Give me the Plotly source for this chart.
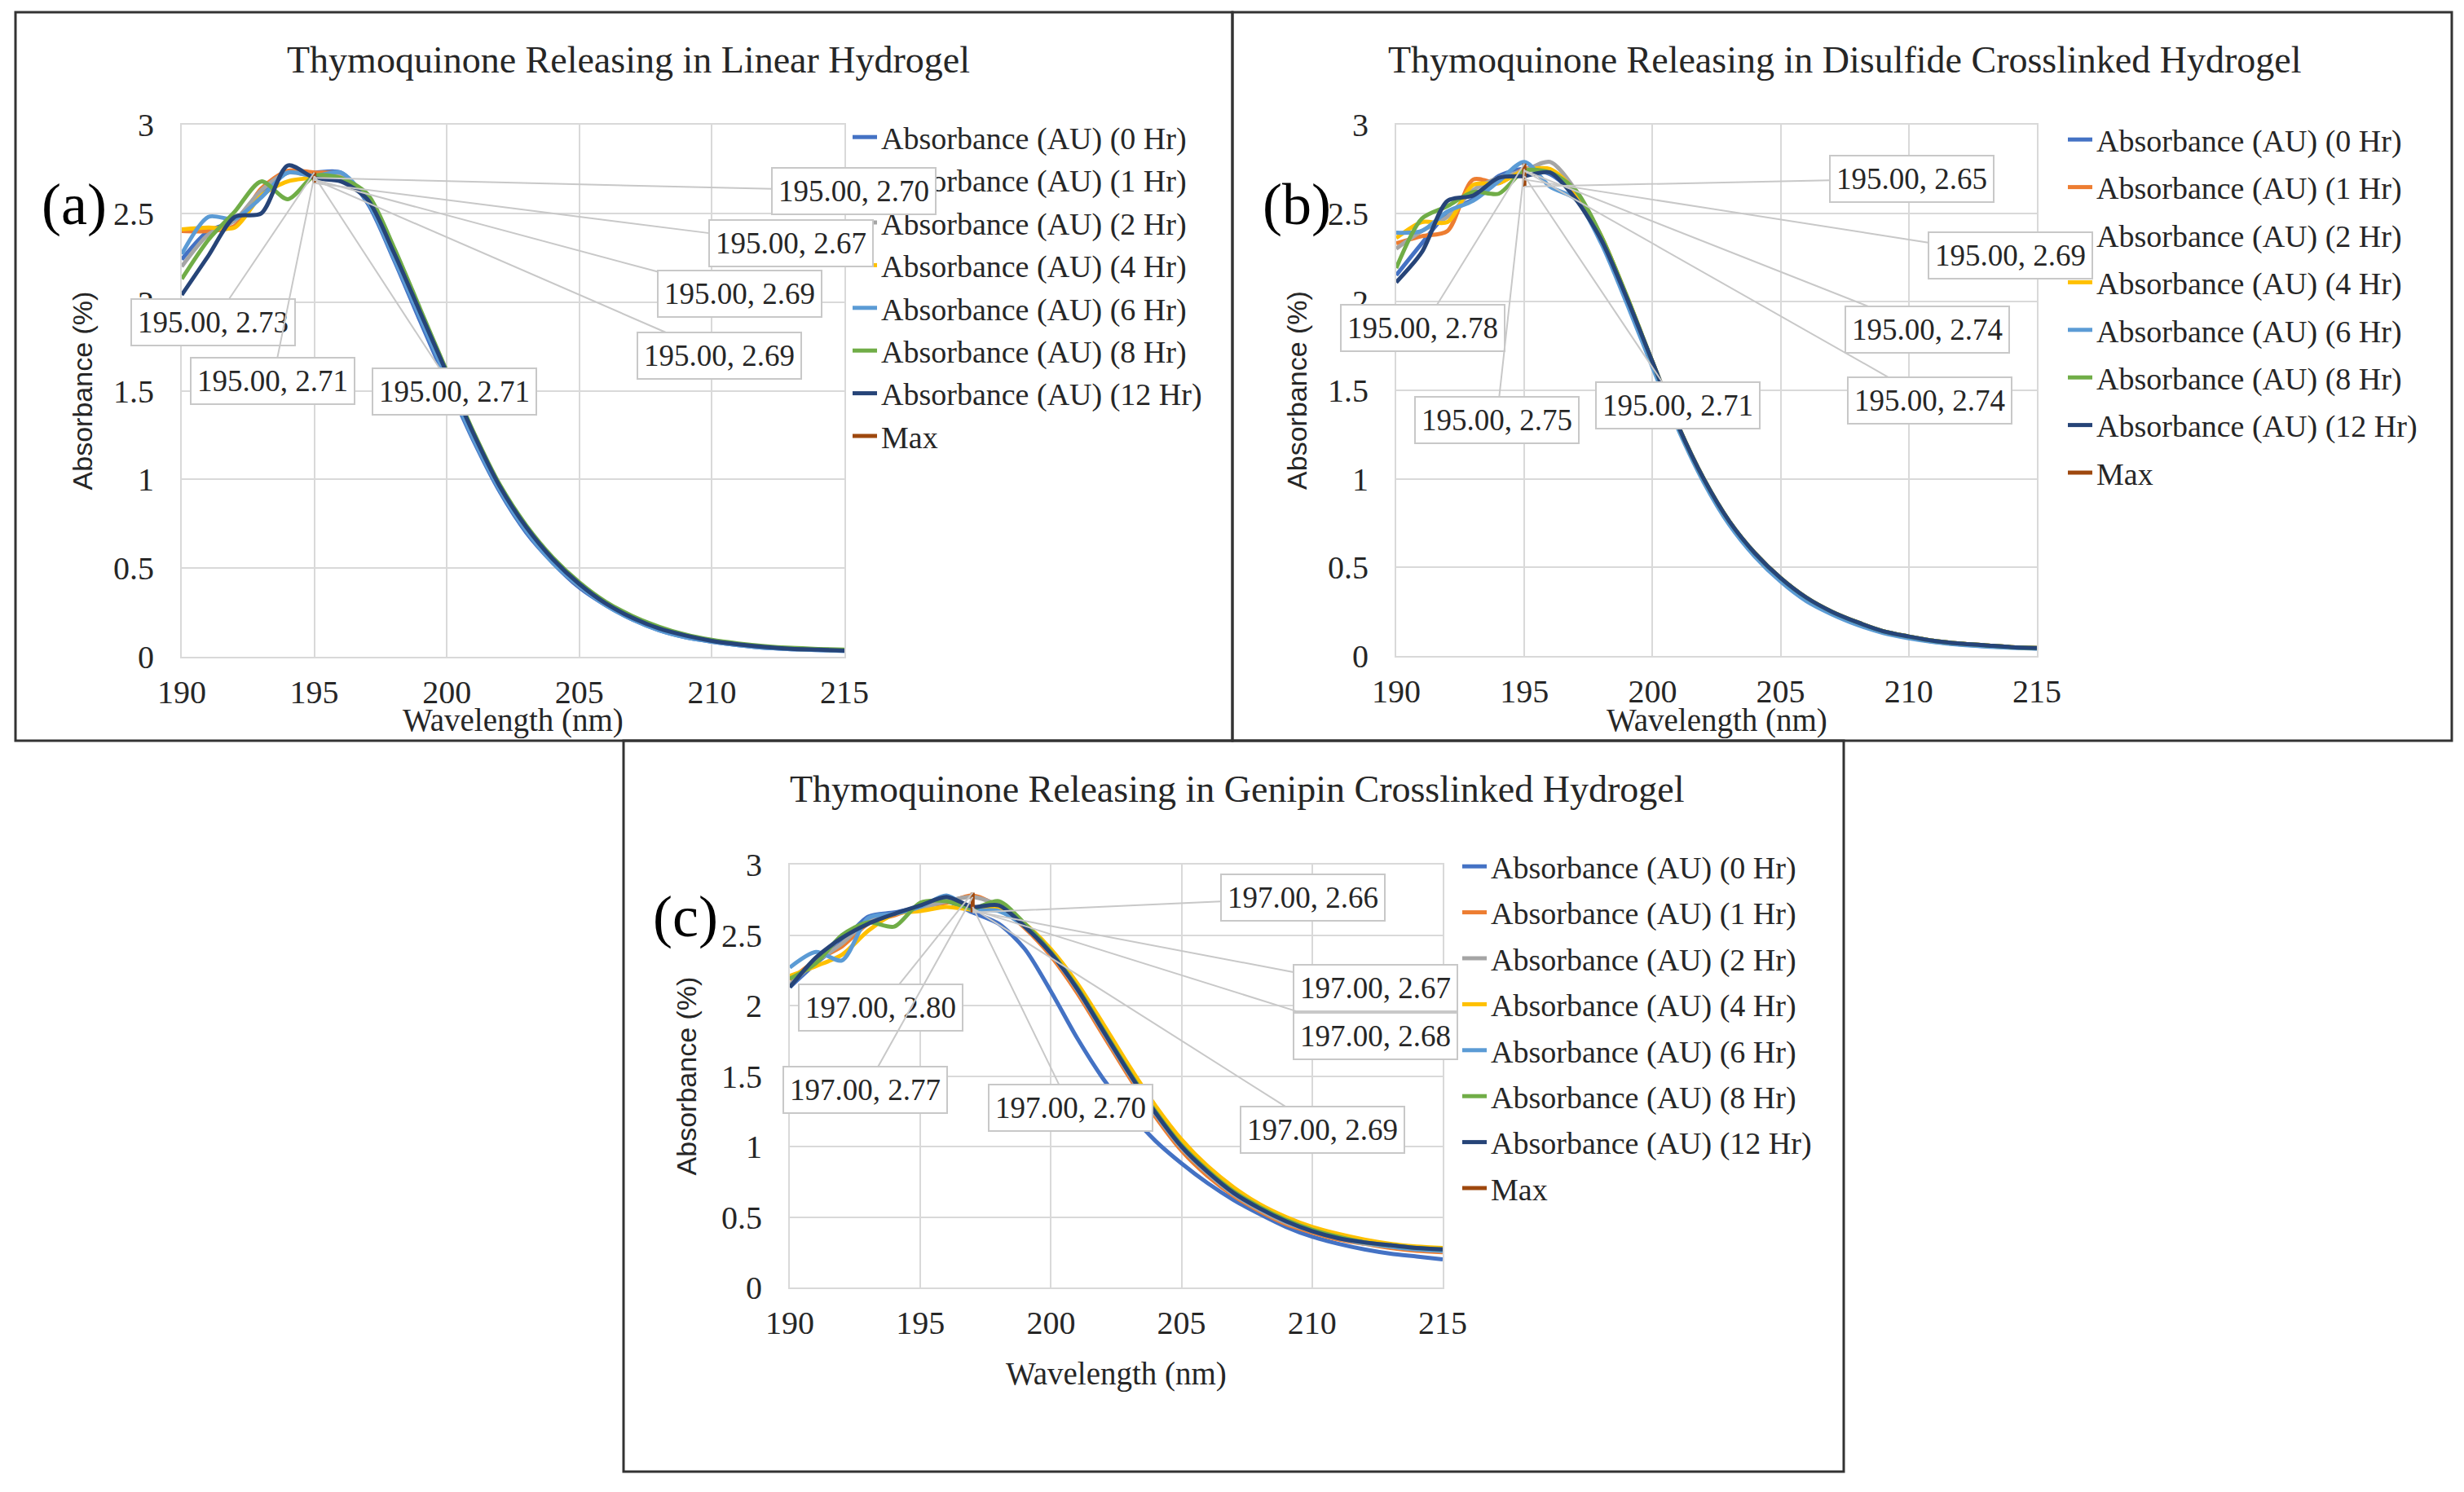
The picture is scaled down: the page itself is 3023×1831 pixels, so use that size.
import plotly.graph_objects as go

# wavelength axis (nm)
wavelength = [190, 191, 192, 193, 194, 195, 196, 197, 198, 199, 200, 201, 202,
              203, 204, 205, 206, 207, 208, 209, 210, 211, 212, 213, 214, 215]

series_names = ['Absorbance (AU) (0 Hr)', 'Absorbance (AU) (1 Hr)', 'Absorbance (AU) (2 Hr)',
                'Absorbance (AU) (4 Hr)', 'Absorbance (AU) (6 Hr)', 'Absorbance (AU) (8 Hr)',
                'Absorbance (AU) (12 Hr)']

# (a) Linear hydrogel
lin_0h = [2.24, 2.40, 2.46, 2.62, 2.73, 2.73, 2.73, 2.56, 2.24, 1.89, 1.55, 1.22, 0.93,
          0.70, 0.53, 0.39, 0.29, 0.21, 0.15, 0.11, 0.085, 0.065, 0.05, 0.043, 0.038, 0.033]
lin_1h = [2.40, 2.40, 2.43, 2.64, 2.74, 2.73, 2.72, 2.58, 2.27, 1.93, 1.59, 1.25, 0.95,
          0.72, 0.54, 0.40, 0.30, 0.22, 0.16, 0.12, 0.09, 0.07, 0.055, 0.045, 0.04, 0.035]
lin_2h = [2.20, 2.38, 2.46, 2.63, 2.73, 2.71, 2.71, 2.58, 2.27, 1.93, 1.59, 1.25, 0.95,
          0.72, 0.54, 0.40, 0.30, 0.22, 0.16, 0.12, 0.09, 0.07, 0.055, 0.045, 0.04, 0.035]
lin_4h = [2.41, 2.42, 2.42, 2.60, 2.68, 2.70, 2.70, 2.58, 2.28, 1.94, 1.60, 1.26, 0.96,
          0.73, 0.55, 0.41, 0.30, 0.22, 0.16, 0.12, 0.09, 0.07, 0.055, 0.045, 0.04, 0.035]
lin_6h = [2.27, 2.48, 2.47, 2.59, 2.73, 2.71, 2.73, 2.57, 2.25, 1.91, 1.57, 1.23, 0.94,
          0.71, 0.53, 0.40, 0.29, 0.21, 0.15, 0.11, 0.085, 0.065, 0.05, 0.043, 0.038, 0.033]
lin_8h = [2.13, 2.35, 2.51, 2.68, 2.58, 2.71, 2.70, 2.61, 2.31, 1.96, 1.61, 1.27, 0.97,
          0.74, 0.56, 0.42, 0.31, 0.23, 0.17, 0.125, 0.095, 0.075, 0.06, 0.05, 0.044, 0.04]
lin_12h = [2.04, 2.26, 2.48, 2.50, 2.77, 2.70, 2.68, 2.58, 2.28, 1.94, 1.60, 1.26, 0.96,
           0.73, 0.55, 0.41, 0.30, 0.22, 0.16, 0.12, 0.09, 0.07, 0.055, 0.045, 0.04, 0.035]
lin_max_x = [195, 195, 195, 195, 195, 195, 195]
lin_max_y = [2.70, 2.67, 2.69, 2.69, 2.73, 2.71, 2.71]

# (b) Disulfide crosslinked hydrogel
dis_0h = [2.15, 2.33, 2.50, 2.58, 2.71, 2.75, 2.72, 2.60, 2.35, 2.01, 1.65, 1.29, 0.99,
          0.75, 0.57, 0.43, 0.32, 0.24, 0.18, 0.135, 0.105, 0.08, 0.065, 0.055, 0.048, 0.043]
dis_1h = [2.33, 2.37, 2.40, 2.69, 2.67, 2.75, 2.74, 2.61, 2.36, 2.02, 1.66, 1.30, 1.00,
          0.76, 0.58, 0.44, 0.33, 0.25, 0.19, 0.14, 0.11, 0.085, 0.07, 0.06, 0.05, 0.045]
dis_2h = [2.30, 2.40, 2.48, 2.63, 2.70, 2.74, 2.79, 2.63, 2.37, 2.03, 1.66, 1.30, 1.00,
          0.76, 0.58, 0.44, 0.33, 0.25, 0.19, 0.14, 0.11, 0.085, 0.07, 0.06, 0.05, 0.045]
dis_4h = [2.36, 2.45, 2.45, 2.66, 2.67, 2.74, 2.75, 2.62, 2.37, 2.03, 1.66, 1.30, 1.00,
          0.76, 0.58, 0.44, 0.33, 0.25, 0.19, 0.14, 0.11, 0.085, 0.07, 0.06, 0.05, 0.045]
dis_6h = [2.39, 2.40, 2.51, 2.57, 2.68, 2.79, 2.65, 2.58, 2.33, 1.99, 1.63, 1.28, 0.98,
          0.74, 0.56, 0.42, 0.31, 0.235, 0.175, 0.13, 0.10, 0.078, 0.063, 0.053, 0.046, 0.041]
dis_8h = [2.19, 2.47, 2.54, 2.62, 2.61, 2.74, 2.73, 2.63, 2.37, 2.03, 1.66, 1.30, 1.00,
          0.76, 0.58, 0.44, 0.33, 0.25, 0.19, 0.14, 0.11, 0.085, 0.07, 0.06, 0.05, 0.045]
dis_12h = [2.11, 2.28, 2.57, 2.60, 2.70, 2.71, 2.73, 2.58, 2.35, 2.02, 1.66, 1.30, 1.00,
           0.76, 0.58, 0.44, 0.33, 0.25, 0.19, 0.14, 0.11, 0.085, 0.07, 0.06, 0.05, 0.045]
dis_max_x = [195, 195, 195, 195, 195, 195, 195]
dis_max_y = [2.65, 2.69, 2.74, 2.74, 2.78, 2.75, 2.71]

# (c) Genipin crosslinked hydrogel
gen_0h = [2.13, 2.30, 2.45, 2.63, 2.66, 2.70, 2.74, 2.66, 2.58, 2.40, 2.10, 1.77, 1.48,
          1.24, 1.04, 0.88, 0.74, 0.62, 0.52, 0.43, 0.36, 0.31, 0.27, 0.24, 0.22, 0.20]
gen_1h = [2.18, 2.32, 2.42, 2.58, 2.64, 2.70, 2.73, 2.78, 2.70, 2.55, 2.35, 2.09, 1.79,
          1.49, 1.21, 0.97, 0.79, 0.65, 0.54, 0.45, 0.39, 0.34, 0.31, 0.28, 0.26, 0.25]
gen_2h = [2.15, 2.31, 2.44, 2.60, 2.65, 2.69, 2.74, 2.77, 2.71, 2.56, 2.37, 2.11, 1.81,
          1.51, 1.23, 0.99, 0.81, 0.66, 0.55, 0.46, 0.40, 0.35, 0.31, 0.29, 0.27, 0.26]
gen_4h = [2.21, 2.28, 2.36, 2.53, 2.65, 2.67, 2.70, 2.68, 2.70, 2.58, 2.40, 2.16, 1.87,
          1.57, 1.29, 1.05, 0.86, 0.71, 0.59, 0.50, 0.43, 0.38, 0.34, 0.31, 0.29, 0.28]
gen_6h = [2.27, 2.38, 2.32, 2.62, 2.65, 2.70, 2.78, 2.68, 2.67, 2.56, 2.37, 2.12, 1.82,
          1.52, 1.24, 1.00, 0.82, 0.67, 0.56, 0.47, 0.40, 0.35, 0.32, 0.29, 0.27, 0.26]
gen_8h = [2.19, 2.30, 2.50, 2.59, 2.56, 2.73, 2.74, 2.69, 2.74, 2.58, 2.38, 2.13, 1.83,
          1.53, 1.25, 1.01, 0.83, 0.68, 0.57, 0.48, 0.41, 0.36, 0.32, 0.30, 0.28, 0.27]
gen_12h = [2.13, 2.34, 2.48, 2.58, 2.65, 2.71, 2.77, 2.70, 2.71, 2.56, 2.37, 2.12, 1.82,
           1.52, 1.24, 1.00, 0.82, 0.67, 0.56, 0.47, 0.40, 0.35, 0.32, 0.30, 0.28, 0.27]
gen_max_x = [197, 197, 197, 197, 197, 197, 197]
gen_max_y = [2.66, 2.67, 2.68, 2.69, 2.80, 2.77, 2.70]

# excel-like palette
colors = ['#4472C4', '#ED7D31', '#A5A5A5', '#FFC000', '#5B9BD5', '#70AD47', '#264478']
max_color = '#9E480E'

SERIF = 'Liberation Serif'
W, H = 3023, 1831
PAGE_OFF = 8  # body margin of the html page


# page pixel -> paper fraction
def fx(px):
    return (px - PAGE_OFF) / W


def fy(py):
    return 1 - (py - PAGE_OFF) / H


panels = [
    dict(series=[lin_0h, lin_1h, lin_2h, lin_4h, lin_6h, lin_8h, lin_12h],
         mx=lin_max_x, my=lin_max_y, ax='x', ay='y', legend='legend',
         # label offsets (px) from the point to the label centre
         offs=[(662, 16), (585, 74), (522, 140), (497, 216), (-124, 184), (-51, 251), (172, 264)]),
    dict(series=[dis_0h, dis_1h, dis_2h, dis_4h, dis_6h, dis_8h, dis_12h],
         mx=dis_max_x, my=dis_max_y, ax='x2', ay='y2', legend='legend2',
         offs=[(475, -10), (596, 93), (494, 195), (497, 282), (-125, 202), (-34, 308), (188, 281)]),
    dict(series=[gen_0h, gen_1h, gen_2h, gen_4h, gen_6h, gen_8h, gen_12h],
         mx=gen_max_x, my=gen_max_y, ax='x3', ay='y3', legend='legend3',
         offs=[(405, -18), (494, 94), (494, 155), (429, 272), (-113, 141), (-132, 237), (120, 247)]),
]

fig = go.Figure()
annotations = []

for p in panels:
    for name, ys, col in zip(series_names, p['series'], colors):
        fig.add_trace(go.Scatter(
            x=wavelength, y=ys, name=name, mode='lines',
            line=dict(color=col, width=5, shape='spline', smoothing=0.8),
            xaxis=p['ax'], yaxis=p['ay'], legend=p['legend'],
            legendgroup=p['legend'] + name,
        ))
    fig.add_trace(go.Scatter(
        x=p['mx'], y=p['my'], name='Max', mode='lines',
        line=dict(color=max_color, width=5),
        xaxis=p['ax'], yaxis=p['ay'], legend=p['legend'],
        legendgroup=p['legend'] + 'Max',
    ))
    # data labels with leader lines
    for xv, yv, (ox, oy) in zip(p['mx'], p['my'], p['offs']):
        annotations.append(dict(
            x=xv, y=yv, xref=p['ax'], yref=p['ay'],
            text=f'{xv:.2f}, {yv:.2f}', showarrow=True, arrowhead=0,
            arrowwidth=2, arrowcolor='#C8C8C8', ax=ox, ay=oy,
            font=dict(family=SERIF, size=37, color='#262626'),
            bgcolor='white', bordercolor='#C8C8C8', borderwidth=2, borderpad=7,
        ))

# panel titles, letters and x-axis titles (page pixel positions)
titles = [('Thymoquinone Releasing in Linear Hydrogel', 771, 73),
          ('Thymoquinone Releasing in Disulfide Crosslinked Hydrogel', 2263, 73),
          ('Thymoquinone Releasing in Genipin Crosslinked Hydrogel', 1517, 968)]
for txt, tx, ty in titles:
    annotations.append(dict(text=txt, x=fx(tx), y=fy(ty), xref='paper', yref='paper',
                            showarrow=False, xanchor='center', yanchor='middle',
                            font=dict(family=SERIF, size=46, color='#262626')))
letters = [('(a)', 91, 251), ('(b)', 1591, 251), ('(c)', 841, 1125)]
for txt, tx, ty in letters:
    annotations.append(dict(text=txt, x=fx(tx), y=fy(ty), xref='paper', yref='paper',
                            showarrow=False, xanchor='center', yanchor='middle',
                            font=dict(family=SERIF, size=72, color='black')))
xtitles = [(629, 884), (2106, 884), (1369, 1686)]
for tx, ty in xtitles:
    annotations.append(dict(text='Wavelength (nm)', x=fx(tx), y=fy(ty), xref='paper',
                            yref='paper', showarrow=False, xanchor='center', yanchor='middle',
                            font=dict(family=SERIF, size=39, color='#262626')))

grid = '#D9D9D9'


def xax(x0, x1, anchor):
    return dict(domain=[fx(x0), fx(x1)], anchor=anchor, range=[190, 215], dtick=5, tick0=190,
                showgrid=True, gridcolor=grid, gridwidth=2, zeroline=False,
                showline=True, linecolor=grid, linewidth=2, mirror=True,
                ticks='', ticklabelstandoff=7, automargin=False,
                tickfont=dict(family=SERIF, size=40, color='#262626'))


def yax(y_bottom, y_top, anchor, standoff):
    return dict(domain=[fy(y_bottom), fy(y_top)], anchor=anchor, range=[0, 3], dtick=0.5,
                showgrid=True, gridcolor=grid, gridwidth=2, zeroline=False,
                showline=True, linecolor=grid, linewidth=2, mirror=True,
                ticks='', ticklabelstandoff=24, automargin=False,
                tickfont=dict(family=SERIF, size=40, color='#262626'),
                title=dict(text='Absorbance (%)', standoff=standoff,
                           font=dict(family='Liberation Sans', size=34, color='#262626')))


legend_style = dict(font=dict(family=SERIF, size=38, color='#262626'),
                    bgcolor='rgba(0,0,0,0)', traceorder='grouped',
                    xanchor='left', yanchor='top')

fig.update_layout(
    width=W, height=H,
    margin=dict(l=0, r=0, t=0, b=0, autoexpand=False),
    paper_bgcolor='white', plot_bgcolor='white',
    xaxis=xax(223, 1036, 'y'),
    yaxis=yax(806, 153, 'x', 15),
    xaxis2=xax(1713, 2499, 'y2'),
    yaxis2=yax(805, 153, 'x2', 15),
    xaxis3=xax(969, 1770, 'y3'),
    yaxis3=yax(1580, 1061, 'x3', 20),
    legend=dict(x=fx(1041), y=fy(137), tracegroupgap=0, **legend_style),
    legend2=dict(x=fx(2532), y=fy(140), tracegroupgap=6, **legend_style),
    legend3=dict(x=fx(1789), y=fy(1032), tracegroupgap=4, **legend_style),
    annotations=annotations,
    shapes=[
        dict(type='rect', xref='paper', yref='paper', x0=fx(19), x1=fx(1512),
             y0=fy(909), y1=fy(15), line=dict(color='#333333', width=3)),
        dict(type='rect', xref='paper', yref='paper', x0=fx(1512), x1=fx(3008),
             y0=fy(909), y1=fy(15), line=dict(color='#333333', width=3)),
        dict(type='rect', xref='paper', yref='paper', x0=fx(765), x1=fx(2262),
             y0=fy(1806), y1=fy(909), line=dict(color='#333333', width=3)),
    ],
)

fig.write_html("out.html")
